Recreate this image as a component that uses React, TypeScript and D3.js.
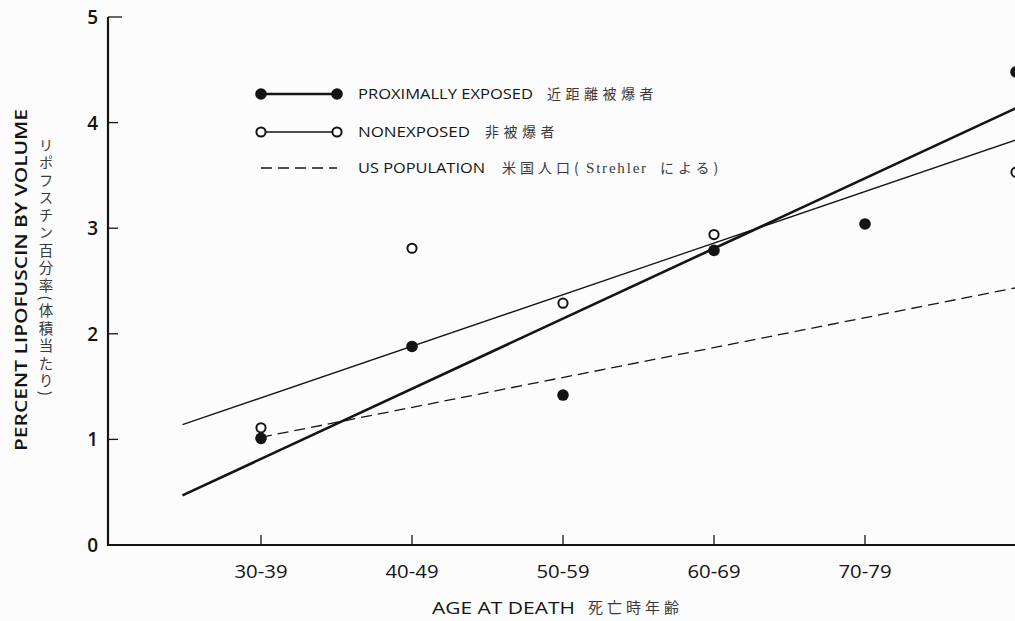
import { scaleLinear, line } from "d3";

// age groups at death (the last one is cut off at the right edge)
const ageGroups = ["30-39", "40-49", "50-59", "60-69", "70-79", "80-89"];
const yTicks = [0, 1, 2, 3, 4, 5];

// percent lipofuscin by volume
const proximal = [1.01, 1.88, 1.42, 2.79, 3.04, 4.48];
const nonexposed: (number | null)[] = [1.11, 2.81, 2.29, 2.94, null, 3.53];

// fitted lines: [group index, value] end points
const proximalFit: [number, number][] = [[-0.52, 0.47], [5.05, 4.17]];
const nonexposedFit: [number, number][] = [[-0.52, 1.14], [5.05, 3.86]];
const usPopulation: [number, number][] = [[0, 1.02], [5.05, 2.45]];

const W = 1015;
const H = 621;

export default function App() {
  const x = scaleLinear().domain([0, 5]).range([261, 1016]);
  const y = scaleLinear().domain([0, 5]).range([545, 17]);
  const path = line<[number, number]>()
    .x((d) => x(d[0]))
    .y((d) => y(d[1]));

  const axisX = 108;
  const latin = "'Open Sans', 'DejaVu Sans', sans-serif";
  const jp = "'Noto Sans CJK JP', sans-serif";
  const ink = "#141414";
  const jpInk = "#3a3a3a";

  return (
    <svg
      width={W}
      height={H}
      style={{ position: "absolute", left: 0, top: 0, background: "#fcfcfc" }}
    >
      {/* axes */}
      <g stroke={ink} fill="none">
        <path d={`M${axisX},${y(5)}V${y(0)}H${W}`} strokeWidth={2.2} />
        {yTicks.slice(1).map((t) => (
          <line key={t} x1={axisX} x2={axisX + (t === 5 ? 14 : 10)} y1={y(t)} y2={y(t)} strokeWidth={1.3} />
        ))}
        {ageGroups.slice(0, 5).map((g, i) => (
          <line key={g} x1={x(i)} x2={x(i)} y1={y(0)} y2={y(0) - 10} strokeWidth={1.3} />
        ))}
      </g>
      {yTicks.map((t) => (
        <text
          key={t}
          x={98}
          y={y(t) + 7}
          textAnchor="end"
          fontFamily={latin}
          fontWeight={600}
          fontSize={19}
          fill={ink}
        >
          {t}
        </text>
      ))}
      {ageGroups.slice(0, 5).map((g, i) => (
        <text
          key={g}
          x={x(i)}
          y={578}
          textAnchor="middle"
          fontFamily={latin}
          fontSize={17.5}
          fill={ink}
          textLength={53}
          lengthAdjust="spacingAndGlyphs"
        >
          {g}
        </text>
      ))}

      {/* axis titles */}
      <text
        x={432}
        y={614}
        fontFamily={latin}
        fontSize={16.5}
        fill={ink}
        textLength={143}
        lengthAdjust="spacingAndGlyphs"
      >
        AGE AT DEATH
      </text>
      <text x={588} y={613} fontFamily={jp} fontSize={15} fill={jpInk} letterSpacing={4}>
        死亡時年齢
      </text>
      <text
        transform="translate(27,280) rotate(-90)"
        textAnchor="middle"
        fontFamily={latin}
        fontWeight={600}
        fontSize={16.5}
        fill={ink}
        textLength={342}
        lengthAdjust="spacingAndGlyphs"
      >
        PERCENT LIPOFUSCIN BY VOLUME
      </text>
      <text
        x={46}
        y={138}
        fontFamily={jp}
        fontSize={14.5}
        fill={jpInk}
        letterSpacing={3}
        style={{ writingMode: "vertical-rl" } as any}
      >
        リポフスチン百分率(体積当たり)
      </text>

      {/* fitted lines */}
      <path d={path(proximalFit) || ""} stroke={ink} strokeWidth={2.6} fill="none" />
      <path d={path(nonexposedFit) || ""} stroke={ink} strokeWidth={1.3} fill="none" />
      <path d={path(usPopulation) || ""} stroke={ink} strokeWidth={1.3} strokeDasharray="11,6" fill="none" />

      {/* data points */}
      {nonexposed.map((v, i) =>
        v == null ? null : (
          <circle key={"n" + i} cx={x(i)} cy={y(v)} r={4.6} fill="#fff" stroke={ink} strokeWidth={2} />
        )
      )}
      {proximal.map((v, i) => (
        <circle key={"p" + i} cx={x(i)} cy={y(v)} r={5.8} fill={ink} />
      ))}

      {/* legend */}
      <g>
        <line x1={261} x2={337} y1={94} y2={94} stroke={ink} strokeWidth={2.6} />
        <circle cx={261} cy={94} r={5.8} fill={ink} />
        <circle cx={337} cy={94} r={5.8} fill={ink} />
        <text x={358} y={99} fontFamily={latin} fontSize={14} fill={ink} textLength={175} lengthAdjust="spacingAndGlyphs">
          PROXIMALLY EXPOSED
        </text>
        <text x={547} y={99} fontFamily={jp} fontSize={14} fill={jpInk} letterSpacing={4.5}>
          近距離被爆者
        </text>

        <line x1={261} x2={337} y1={132} y2={132} stroke={ink} strokeWidth={1.3} />
        <circle cx={261} cy={132} r={4.6} fill="#fff" stroke={ink} strokeWidth={2} />
        <circle cx={337} cy={132} r={4.6} fill="#fff" stroke={ink} strokeWidth={2} />
        <text x={358} y={137} fontFamily={latin} fontSize={14} fill={ink} textLength={112} lengthAdjust="spacingAndGlyphs">
          NONEXPOSED
        </text>
        <text x={485} y={137} fontFamily={jp} fontSize={14} fill={jpInk} letterSpacing={4.5}>
          非被爆者
        </text>

        <line x1={261} x2={337} y1={168} y2={168} stroke={ink} strokeWidth={1.3} strokeDasharray="11,6" />
        <text x={358} y={173} fontFamily={latin} fontSize={14} fill={ink} textLength={127} lengthAdjust="spacingAndGlyphs">
          US POPULATION
        </text>
        <text x={502} y={173} fontFamily={jp} fontSize={14} fill={jpInk} letterSpacing={4}>
          米国人口(
        </text>
        <text x={586} y={173} fontFamily="'Liberation Serif', serif" fontSize={15} fill={jpInk} letterSpacing={1.8}>
          Strehler
        </text>
        <text x={660} y={173} fontFamily={jp} fontSize={14} fill={jpInk} letterSpacing={4}>
          による)
        </text>
      </g>
    </svg>
  );
}
